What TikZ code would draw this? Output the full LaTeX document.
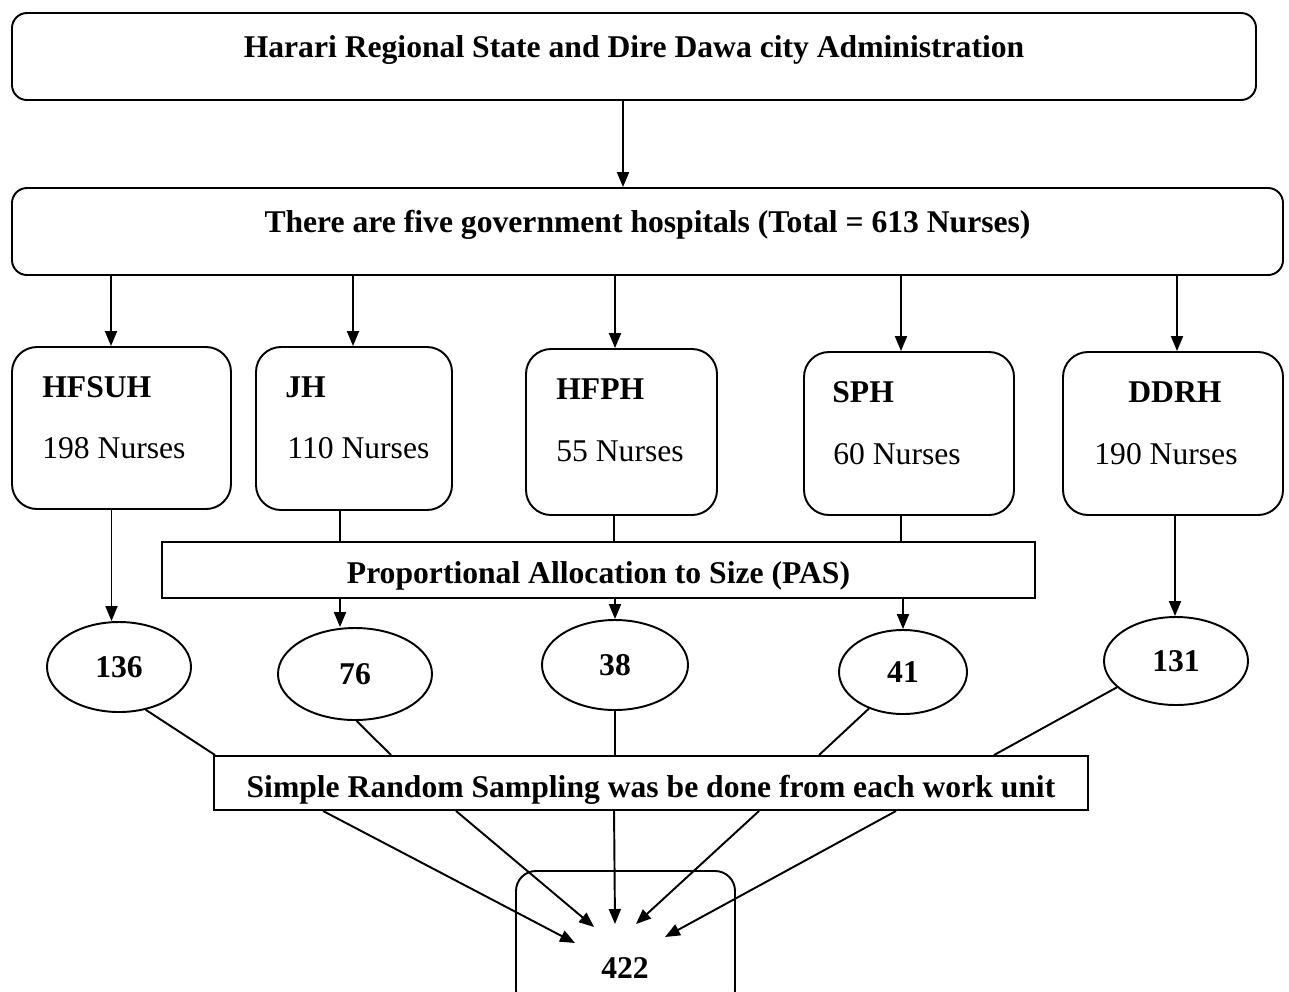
\documentclass[tikz,border=0pt]{standalone}
\usepackage{fontspec}
\setmainfont{Liberation Serif}
\usetikzlibrary{positioning,arrows.meta,shapes.geometric}

\begin{document}
\begin{tikzpicture}[
    font=\fontsize{18}{21}\selectfont,
    rbox/.style={rectangle,rounded corners=0.3cm,draw=black,line width=1.1pt,minimum height=1.74cm,inner ysep=0pt,text height=0.5cm,text depth=0.46cm,font=\fontsize{18}{21}\selectfont\bfseries},
    hbox/.style={rectangle,rounded corners=0.5cm,draw=black,line width=1.1pt},
    hname/.style={inner sep=0pt,anchor=base west,font=\fontsize{18}{21}\selectfont\bfseries},
    nrs/.style={inner sep=0pt,anchor=base west},
    block/.style={rectangle,draw=black,line width=1.1pt,align=center,inner ysep=0pt,font=\fontsize{18}{21}\selectfont\bfseries},
    share/.style={ellipse,draw=black,line width=1.1pt,inner sep=0pt,font=\fontsize{18}{21}\selectfont\bfseries},
    arrow/.style={-{Triangle[length=0.3cm,width=0.24cm]},line width=1.1pt},
    link/.style={line width=1.1pt},
  ]
  \useasboundingbox (0,0) rectangle (25.78,-19.82);
  \clip (0,0) rectangle (25.78,-19.82);

  \node[rbox,minimum width=24.88cm] (region) at (12.68,-1.13) {Harari Regional State and Dire Dawa city Administration};
  \node[rbox,minimum width=25.42cm] (govt) at (12.95,-4.63) {There are five government hospitals (Total = 613 Nurses)};

  % hospitals
  \node[hbox,minimum width=4.38cm,minimum height=3.24cm] (hfsuh) at (2.43,-8.56) {};
  \node[hbox,minimum width=3.92cm,minimum height=3.26cm] (jh) at (7.08,-8.57) {};
  \node[hbox,minimum width=3.82cm,minimum height=3.32cm] (hfph) at (12.43,-8.64) {};
  \node[hbox,minimum width=4.2cm,minimum height=3.26cm] (sph) at (18.18,-8.67) {};
  \node[hbox,minimum width=4.4cm,minimum height=3.26cm] (ddrh) at (23.46,-8.67) {};

  \node[hname] (hfsuh-t) at (0.84,-7.94) {HFSUH};
  \node[nrs] (hfsuh-n) at (0.84,-9.16) {198 Nurses};
  \node[hname] (jh-t) at (5.70,-7.94) {JH};
  \node[nrs] (jh-n) at (5.74,-9.16) {110 Nurses};
  \node[hname] (hfph-t) at (11.12,-7.98) {HFPH};
  \node[nrs] (hfph-n) at (11.12,-9.22) {55 Nurses};
  \node[hname] (sph-t) at (16.64,-8.04) {SPH};
  \node[nrs] (sph-n) at (16.66,-9.28) {60 Nurses};
  \node[hname] (ddrh-t) at (22.56,-8.04) {DDRH};
  \node[nrs] (ddrh-n) at (21.88,-9.28) {190 Nurses};

  \node[block,minimum width=17.46cm,minimum height=1.12cm,text height=0.7cm,text depth=0.18cm] (pas) at (11.97,-11.4) {Proportional Allocation to Size (PAS)};

  % sample sizes
  \node[share,minimum width=2.88cm,minimum height=1.8cm] (n136) at (2.38,-13.34) {136};
  \node[share,minimum width=3.08cm,minimum height=1.84cm] (n76) at (7.10,-13.48) {76};
  \node[share,minimum width=2.92cm,minimum height=1.8cm] (n38) at (12.30,-13.30) {38};
  \node[share,minimum width=2.56cm,minimum height=1.68cm] (n41) at (18.06,-13.44) {41};
  \node[share,minimum width=2.88cm,minimum height=1.76cm] (n131) at (23.52,-13.22) {131};

  \node[block,minimum width=17.48cm,minimum height=1.08cm,text height=0.8cm,text depth=0.22cm] (srs) at (13.02,-15.66) {Simple Random Sampling was be done from each work unit};

  \node[hbox,rounded corners=0.4cm,minimum width=4.38cm,minimum height=2.8cm,anchor=north] (total) at (12.51,-17.4) {};
  \node[font=\fontsize{18}{21}\selectfont\bfseries] (total-t) at (12.5,-19.36) {422};

  \coordinate (in1) at (11.5,-18.86);
  \coordinate (in2) at (11.88,-18.54);
  \coordinate (in3) at (12.3,-18.48);
  \coordinate (in4) at (12.72,-18.48);
  \coordinate (in5) at (13.3,-18.74);

  \draw[arrow] ([xshift=-0.22cm]region.south) -- ([xshift=-0.22cm]region.south |- govt.north);

  \draw[arrow] ([xshift=-0.21cm]hfsuh.north |- govt.south) -- ([xshift=-0.21cm]hfsuh.north);
  \draw[arrow] ([xshift=-0.02cm]jh.north |- govt.south) -- ([xshift=-0.02cm]jh.north);
  \draw[arrow] ([xshift=-0.13cm]hfph.north |- govt.south) -- ([xshift=-0.13cm]hfph.north);
  \draw[arrow] ([xshift=-0.16cm]sph.north |- govt.south) -- ([xshift=-0.16cm]sph.north);
  \draw[arrow] ([xshift=0.08cm]ddrh.north |- govt.south) -- ([xshift=0.08cm]ddrh.north);

  \draw[arrow] ([xshift=-0.2cm]hfsuh.south) -- ([xshift=-0.2cm]hfsuh.south |- n136.north);
  \draw[link] ([xshift=-0.28cm]jh.south) -- ([xshift=-0.28cm]jh.south |- pas.north);
  \draw[link] ([xshift=-0.15cm]hfph.south) -- ([xshift=-0.15cm]hfph.south |- pas.north);
  \draw[link] ([xshift=-0.16cm]sph.south) -- ([xshift=-0.16cm]sph.south |- pas.north);
  \draw[arrow] ([xshift=0.04cm]ddrh.south) -- ([xshift=0.04cm]ddrh.south |- n131.north);

  \draw[arrow] ([xshift=-0.3cm]n76.north |- pas.south) -- ([xshift=-0.3cm]n76.north);
  \draw[arrow] (n38.north |- pas.south) -- (n38.north);
  \draw[arrow] (n41.north |- pas.south) -- (n41.north);

  \draw[link] (n136.-58) -- ([xshift=0.04cm]srs.north west);
  \draw[link] (n76.-88) -- ([xshift=3.56cm]srs.north west);
  \draw[link] (n38.south) -- (n38.south |- srs.north);
  \draw[link] (n41.-133) -- ([xshift=12.12cm]srs.north west);
  \draw[link] (n131.-156) -- ([xshift=15.62cm]srs.north west);

  \draw[arrow] ([xshift=2.2cm]srs.south west) -- (in1);
  \draw[arrow] ([xshift=4.86cm]srs.south west) -- (in2);
  \draw[arrow] ([xshift=8.02cm]srs.south west) -- (in3);
  \draw[arrow] ([xshift=10.92cm]srs.south west) -- (in4);
  \draw[arrow] ([xshift=13.66cm]srs.south west) -- (in5);
\end{tikzpicture}
\end{document}
